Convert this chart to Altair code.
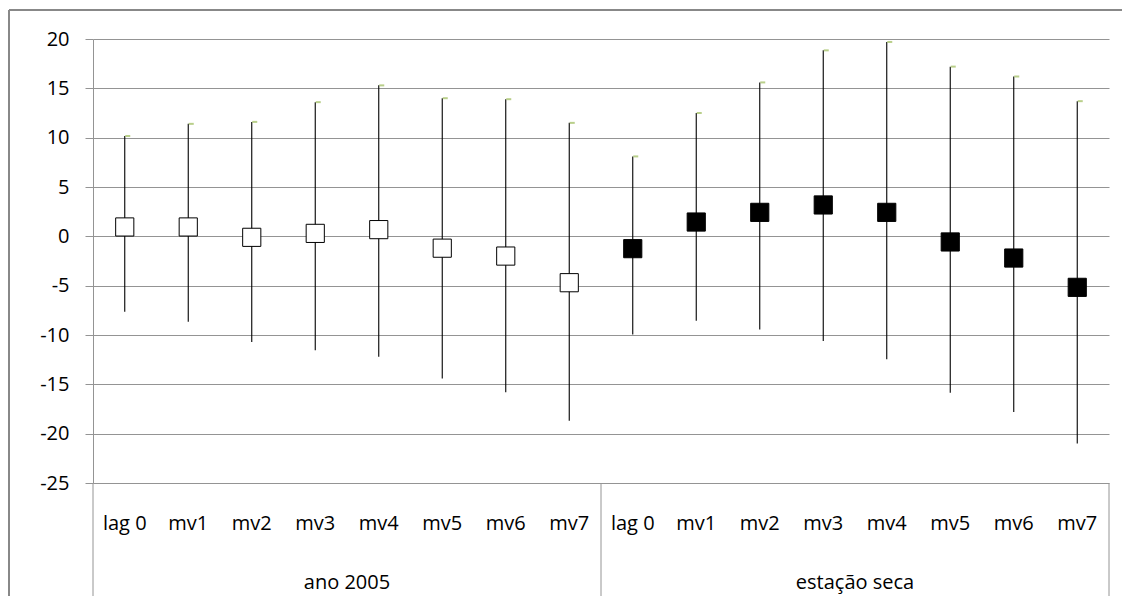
import altair as alt
import pandas as pd

categories = ["lag 0", "mv1", "mv2", "mv3", "mv4", "mv5", "mv6", "mv7"]
groups = ["ano 2005", "estação seca"]

ano_mid = [0.95, 0.95, -0.1, 0.3, 0.68, -1.2, -2.0, -4.7]
ano_low = [-7.64, -8.66, -10.7, -11.54, -12.2, -14.4, -15.8, -18.7]
ano_high = [10.17, 11.4, 11.6, 13.6, 15.3, 14.0, 13.9, 11.5]

seca_mid = [-1.25, 1.45, 2.43, 3.18, 2.43, -0.57, -2.2, -5.17]
seca_low = [-9.95, -8.56, -9.44, -10.6, -12.46, -15.85, -17.8, -21.0]
seca_high = [8.1, 12.5, 15.6, 18.85, 19.7, 17.2, 16.2, 13.7]

y_ticks = [-25, -20, -15, -10, -5, 0, 5, 10, 15, 20]

rows = []
for g, (mids, lows, highs) in enumerate([(ano_mid, ano_low, ano_high),
                                         (seca_mid, seca_low, seca_high)]):
    for i, c in enumerate(categories):
        rows.append({
            "pos": g * len(categories) + i + 0.5,
            "cat": c,
            "group": groups[g],
            "mid": mids[i],
            "low": lows[i],
            "high": highs[i],
        })
df = pd.DataFrame(rows)

n = len(categories) * len(groups)
group_df = pd.DataFrame({
    "group": groups,
    "center": [len(categories) * (k + 0.5) for k in range(len(groups))],
})
sep_df = pd.DataFrame({"sep": [len(categories) * k for k in range(len(groups) + 1)]})

W, H = 1016, 444
FONT = "Open Sans"
GRID = "#949494"

xscale = alt.Scale(domain=[0, n], nice=False, zero=False)
yscale = alt.Scale(domain=[-25, 20], nice=False, zero=False)

base = alt.Chart(df)

whisker = base.mark_rule(color="black", strokeWidth=1.1).encode(
    x=alt.X("pos:Q", scale=xscale, axis=None),
    y=alt.Y("low:Q", scale=yscale,
            axis=alt.Axis(values=y_ticks, title=None, grid=True, gridColor=GRID,
                          gridWidth=1, domainColor=GRID, tickColor=GRID, tickSize=8,
                          labelFont=FONT, labelFontSize=20, labelColor="#000000",
                          labelPadding=16, labelExpr="'' + datum.value")),
    y2="high:Q",
)

hi_tick = base.mark_tick(orient="horizontal", size=5, thickness=2,
                         color="#9BBB59", xOffset=3).encode(
    x=alt.X("pos:Q", scale=xscale, axis=None),
    y=alt.Y("high:Q", scale=yscale),
)

squares = base.mark_point(shape="square", size=330, filled=True,
                          stroke="black", strokeWidth=1, opacity=1).encode(
    x=alt.X("pos:Q", scale=xscale, axis=None),
    y=alt.Y("mid:Q", scale=yscale),
    fill=alt.Fill("group:N", scale=alt.Scale(domain=groups, range=["white", "black"]),
                  legend=None),
)

cat_text = base.mark_text(font=FONT, fontSize=20, color="#000000",
                          baseline="middle", align="center").encode(
    x=alt.X("pos:Q", scale=xscale, axis=None),
    y=alt.value(H + 41),
    text="cat:N",
)

group_text = alt.Chart(group_df).mark_text(font=FONT, fontSize=20, color="#000000",
                                           baseline="middle", align="center").encode(
    x=alt.X("center:Q", scale=xscale, axis=None),
    y=alt.value(H + 100),
    text="group:N",
)

seps = alt.Chart(sep_df).mark_rule(color=GRID, strokeWidth=1).encode(
    x=alt.X("sep:Q", scale=xscale, axis=None),
    y=alt.value(H),
    y2=alt.value(H + 120),
)

frame_df = pd.DataFrame({"a": [0]})
frame_top = alt.Chart(frame_df).mark_rule(color="#888888", strokeWidth=2).encode(
    x=alt.value(-84), x2=alt.value(W + 40), y=alt.value(-29),
)
frame_left = alt.Chart(frame_df).mark_rule(color="#888888", strokeWidth=2).encode(
    x=alt.value(-84), y=alt.value(-29), y2=alt.value(H + 120),
)

chart = alt.layer(
    seps, whisker, hi_tick, squares, cat_text, group_text, frame_top, frame_left
).properties(
    width=W, height=H,
    autosize=alt.AutoSizeParams(type="none"),
    padding={"left": 85, "top": 31, "right": 13, "bottom": 113},
    background="white",
).configure_view(strokeWidth=0)

chart.save("out.html", embed_options={"renderer": "svg", "actions": False})
